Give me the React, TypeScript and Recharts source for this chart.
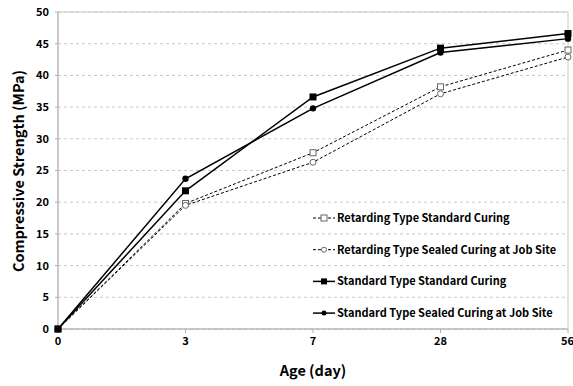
import {
  LineChart,
  Line,
  CartesianGrid,
  XAxis,
  YAxis,
  ReferenceArea,
  Label,
} from "recharts";

const ages = ["0", "3", "7", "28", "56"];
const retardingStandard = [0, 19.8, 27.8, 38.2, 44.0];
const retardingSealed = [0, 19.5, 26.3, 37.1, 42.9];
const standardStandard = [0, 21.8, 36.6, 44.3, 46.6];
const standardSealed = [0, 23.7, 34.8, 43.6, 45.8];
const yTicks = [0, 5, 10, 15, 20, 25, 30, 35, 40, 45, 50];

const seriesNames = [
  "Retarding Type Standard Curing",
  "Retarding Type Sealed Curing at Job Site",
  "Standard Type Standard Curing",
  "Standard Type Sealed Curing at Job Site",
];

const data = ages.map((age, i) => ({
  age,
  rs: retardingStandard[i],
  rsl: retardingSealed[i],
  ss: standardStandard[i],
  ssl: standardSealed[i],
}));

const FONT = "'Noto Sans CJK KR', 'Noto Sans', sans-serif";

// marker shapes
function openSquare(p: any) {
  return <rect key={p.index} x={p.cx - 3} y={p.cy - 3} width={6} height={6} fill="#fff" stroke="#666" strokeWidth={1} />;
}
function openCircle(p: any) {
  return <circle key={p.index} cx={p.cx} cy={p.cy} r={3} fill="#fff" stroke="#666" strokeWidth={1} />;
}
function filledSquare(p: any) {
  return <rect key={p.index} x={p.cx - 3.5} y={p.cy - 3.5} width={7} height={7} fill="#000" />;
}
function filledCircle(p: any) {
  return <circle key={p.index} cx={p.cx} cy={p.cy} r={3.2} fill="#000" />;
}

const legendItems = [
  { name: seriesNames[0], dash: "3 2", marker: "os" },
  { name: seriesNames[1], dash: "3 2", marker: "oc" },
  { name: seriesNames[2], dash: undefined, marker: "fs" },
  { name: seriesNames[3], dash: undefined, marker: "fc" },
];

// legend sits inside the plot, lower right
function LegendBox() {
  return (
    <svg width={262} height={130} style={{ overflow: "visible", display: "block" }}>
      {legendItems.map((it, i) => {
        const y = 10 + i * 31.7;
        const mx = 11;
        let m;
        if (it.marker === "os") m = <rect x={mx - 3} y={y - 3} width={6} height={6} fill="#fff" stroke="#666" />;
        else if (it.marker === "oc") m = <circle cx={mx} cy={y} r={2.5} fill="#fff" stroke="#666" />;
        else if (it.marker === "fs") m = <rect x={mx - 3} y={y - 3} width={6} height={6} fill="#000" />;
        else m = <circle cx={mx} cy={y} r={2.5} fill="#000" />;
        return (
          <g key={i}>
            <line x1={0} x2={22} y1={y} y2={y} stroke="#000" strokeWidth={it.dash ? 1 : 1.5} strokeDasharray={it.dash} />
            {m}
            <text x={24} y={y} dy="0.35em" fontSize={11} fontWeight="bold" fontFamily={FONT} fill="#000">
              {it.name}
            </text>
          </g>
        );
      })}
    </svg>
  );
}

export default function App() {
  return (
    <div style={{ position: "absolute", left: 0, top: 0, width: 573, height: 386, background: "#fff" }}>
      <LineChart width={573} height={386} data={data} margin={{ top: 12, right: 5, left: 0, bottom: 0 }}>
        <CartesianGrid stroke="#c8c8c8" strokeDasharray="3 3" vertical={false} />
        <ReferenceArea x1="0" x2="56" y1={0} y2={50} fill="none" stroke="#c8c8c8" strokeWidth={1} ifOverflow="visible" />
        <XAxis
          dataKey="age"
          height={57}
          tickSize={4}
          tickMargin={4}
          stroke="#b0b0b0"
          tick={{ fontSize: 11, fontWeight: "bold", fill: "#000", fontFamily: FONT }}
        >
          <Label value="Age (day)" position="center" dy={13} style={{ fontSize: 14.5, fontWeight: "bold", fill: "#000", fontFamily: FONT }} />
        </XAxis>
        <YAxis
          width={58}
          domain={[0, 50]}
          ticks={yTicks}
          tickSize={3}
          tickMargin={6}
          stroke="#b0b0b0"
          tick={{ fontSize: 11, fontWeight: "bold", fill: "#000", fontFamily: FONT }}
        >
          <Label
            content={() => (
              <text
                x={17}
                y={171}
                transform="rotate(-90, 17, 171)"
                textAnchor="middle"
                dominantBaseline="central"
                fontSize={14.5}
                fontWeight="bold"
                fontFamily={FONT}
                fill="#000"
              >
                Compressive Strength (MPa)
              </text>
            )}
          />
        </YAxis>
        <Line type="linear" dataKey="rs" name={seriesNames[0]} stroke="#000" strokeWidth={1} strokeDasharray="3 2" dot={openSquare} isAnimationActive={false} />
        <Line type="linear" dataKey="rsl" name={seriesNames[1]} stroke="#000" strokeWidth={1} strokeDasharray="3 2" dot={openCircle} isAnimationActive={false} />
        <Line type="linear" dataKey="ss" name={seriesNames[2]} stroke="#000" strokeWidth={1.5} dot={filledSquare} isAnimationActive={false} />
        <Line type="linear" dataKey="ssl" name={seriesNames[3]} stroke="#000" strokeWidth={1.5} dot={filledCircle} isAnimationActive={false} />
      </LineChart>
      <div style={{ position: "absolute", left: 313, top: 208 }}>
        <LegendBox />
      </div>
    </div>
  );
}
